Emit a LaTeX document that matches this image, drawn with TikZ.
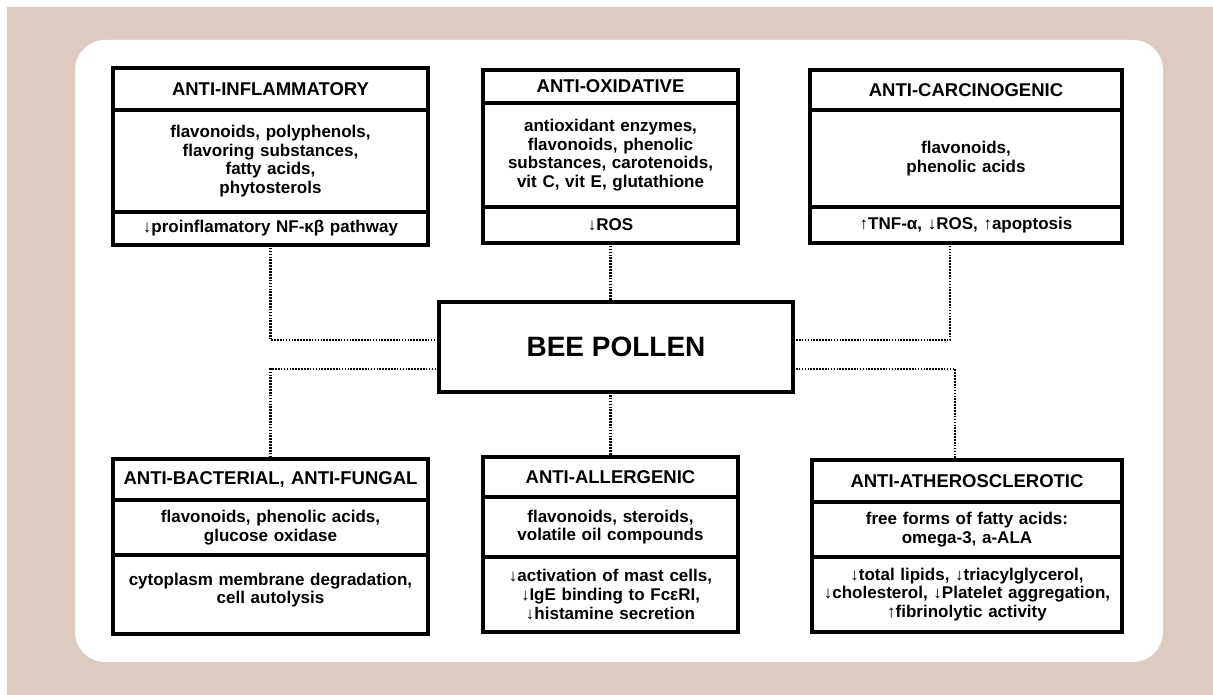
\documentclass[tikz,border=0pt]{standalone}
\usepackage{fontspec}
\setmainfont{Liberation Sans}
\usepackage{tikz}
\usetikzlibrary{positioning}
\definecolor{framebg}{RGB}{221,203,193}
\tikzset{
    head/.style={
           rectangle,
           draw=black, line width=4pt,
           outer sep=0pt,
           inner sep=2pt,
           font=\fontsize{18.5}{20}\selectfont\bfseries,
           align=center,
           },
    part/.style={
           rectangle,
           draw=black, line width=4pt,
           outer sep=0pt,
           inner sep=2pt,
           font=\fontsize{17}{18.7}\selectfont\bfseries,
           align=center,
           },
    pollen/.style={
           rectangle,
           draw=black, line width=4.5pt,
           outer sep=0pt,
           minimum width=354pt,
           minimum height=90pt,
           font=\fontsize{28}{30}\selectfont\bfseries,
           },
    link/.style={
           line width=2.8pt,
           dash pattern=on 1.6pt off 1.3pt,
           },
}
\begin{document}
\begin{tikzpicture}[x=1pt,y=-1pt]

 % background and white card
 \useasboundingbox (0,0) rectangle (1213,695);
 \fill[framebg] (7,7) rectangle (1213,695);
 \fill[white, rounded corners=30pt] (75,40) rectangle (1163,662);

 % ANTI-INFLAMMATORY
 \node[head, anchor=north west,
 minimum width=315pt, text width=305pt,
 minimum height=42pt] (INFL_HEAD) at (113,68)
 {%
ANTI-INFLAMMATORY
 };
 \node[part, below=0pt of INFL_HEAD,
 minimum width=315pt, text width=305pt,
 minimum height=102pt] (INFL_SUB)
 {%
flavonoids, polyphenols,\\ flavoring substances,\\ fatty acids,\\ phytosterols
 };
 \node[part, below=0pt of INFL_SUB,
 minimum width=315pt, text width=305pt,
 minimum height=33pt] (INFL_EFF)
 {%
↓proinflamatory NF-κβ pathway
 };

 % ANTI-OXIDATIVE
 \node[head, anchor=north west,
 minimum width=255pt, text width=245pt,
 minimum height=33pt] (OXID_HEAD) at (483,70)
 {%
ANTI-OXIDATIVE
 };
 \node[part, below=0pt of OXID_HEAD,
 minimum width=255pt, text width=245pt,
 minimum height=104pt] (OXID_SUB)
 {%
antioxidant enzymes,\\ flavonoids, phenolic\\ substances, carotenoids,\\ vit C, vit E, glutathione
 };
 \node[part, below=0pt of OXID_SUB,
 minimum width=255pt, text width=245pt,
 minimum height=36pt] (OXID_EFF)
 {%
↓ROS
 };

 % ANTI-CARCINOGENIC
 \node[head, anchor=north west,
 minimum width=312pt, text width=302pt,
 minimum height=40pt] (CARC_HEAD) at (810,70)
 {%
ANTI-CARCINOGENIC
 };
 \node[part, below=0pt of CARC_HEAD,
 minimum width=312pt, text width=302pt,
 minimum height=97pt] (CARC_SUB)
 {%
flavonoids,\\ phenolic acids
 };
 \node[part, below=0pt of CARC_SUB,
 minimum width=312pt, text width=302pt,
 minimum height=36pt] (CARC_EFF)
 {%
↑TNF-α, ↓ROS, ↑apoptosis
 };

 % BEE POLLEN
 \node[pollen] (POLLEN) at (616,347) {BEE POLLEN};

 % ANTI-BACTERIAL, ANTI-FUNGAL
 \node[head, anchor=north west,
 minimum width=315pt, text width=305pt,
 minimum height=41pt] (BACT_HEAD) at (113,459)
 {%
ANTI-BACTERIAL, ANTI-FUNGAL
 };
 \node[part, below=0pt of BACT_HEAD,
 minimum width=315pt, text width=305pt,
 minimum height=55pt] (BACT_SUB)
 {%
flavonoids, phenolic acids,\\ glucose oxidase
 };
 \node[part, below=0pt of BACT_SUB,
 minimum width=315pt, text width=305pt,
 minimum height=79pt, text depth=31pt] (BACT_EFF)
 {%
cytoplasm membrane degradation,\\ cell autolysis
 };

 % ANTI-ALLERGENIC
 \node[head, anchor=north west,
 minimum width=255pt, text width=245pt,
 minimum height=40pt] (ALLER_HEAD) at (483,457)
 {%
ANTI-ALLERGENIC
 };
 \node[part, below=0pt of ALLER_HEAD,
 minimum width=255pt, text width=245pt,
 minimum height=60pt] (ALLER_SUB)
 {%
flavonoids, steroids,\\ volatile oil compounds
 };
 \node[part, below=0pt of ALLER_SUB,
 minimum width=255pt, text width=245pt,
 minimum height=75pt] (ALLER_EFF)
 {%
↓activation of mast cells,\\ ↓IgE binding to FcεRI,\\ ↓histamine secretion
 };

 % ANTI-ATHEROSCLEROTIC
 \node[head, anchor=north west,
 minimum width=310pt, text width=300pt,
 minimum height=42pt] (ATHER_HEAD) at (812,460)
 {%
ANTI-ATHEROSCLEROTIC
 };
 \node[part, below=0pt of ATHER_HEAD,
 minimum width=310pt, text width=300pt,
 minimum height=55pt] (ATHER_SUB)
 {%
free forms of fatty acids:\\ omega-3, a-ALA
 };
 \node[part, below=0pt of ATHER_SUB,
 minimum width=310pt, text width=300pt,
 minimum height=75pt] (ATHER_EFF)
 {%
↓total lipids, ↓triacylglycerol,\\ ↓cholesterol, ↓Platelet aggregation,\\ ↑fibrinolytic activity
 };

 % draw the dotted links to the centre
 \draw[link] (INFL_EFF.south) |- ([yshift=7pt]POLLEN.west);
 \draw[link] (OXID_EFF.south) -- (OXID_EFF.south |- POLLEN.north);
 \draw[link] ([xshift=-16pt]CARC_EFF.south) |- ([yshift=7pt]POLLEN.east);
 \draw[link] ([yshift=-22pt]POLLEN.west) -| (BACT_HEAD.north);
 \draw[link] (POLLEN.south -| ALLER_HEAD.north) -- (ALLER_HEAD.north);
 \draw[link] ([yshift=-22pt]POLLEN.east) -| ([xshift=-12pt]ATHER_HEAD.north);

\end{tikzpicture}
\end{document}
